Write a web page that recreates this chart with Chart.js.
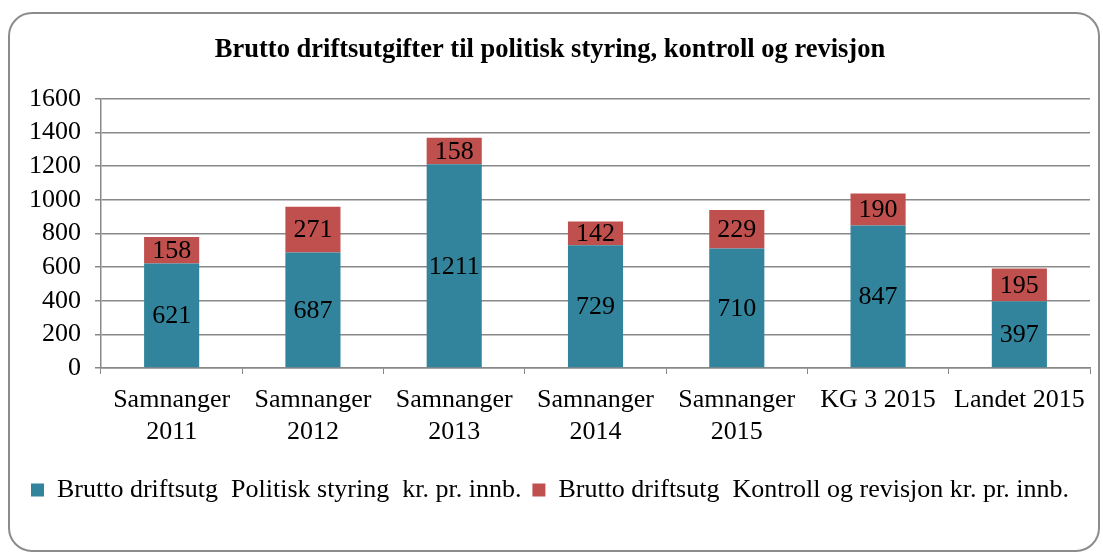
<!DOCTYPE html>
<html>
<head>
<meta charset="utf-8">
<script src="https://cdn.jsdelivr.net/npm/chart.js@4"></script>
<style>
  html, body { margin: 0; padding: 0; background: #fff; }
  #frame {
    position: absolute; left: 8px; top: 12px; width: 1088px; height: 536px;
    border: 2px solid #8c8c8c; border-radius: 24px; overflow: hidden;
  }
  #frame canvas { display: block; }
</style>
</head>
<body>
<div id="frame"><canvas id="chart" width="1088" height="536"></canvas></div>
<script>
const categories = [
  ["Samnanger", "2011"], ["Samnanger", "2012"], ["Samnanger", "2013"],
  ["Samnanger", "2014"], ["Samnanger", "2015"], "KG 3 2015", "Landet 2015"
];
const politisk = [621, 687, 1211, 729, 710, 847, 397];
const kontroll = [158, 271, 158, 142, 229, 190, 195];
const yTicks = [0, 200, 400, 600, 800, 1000, 1200, 1400, 1600];

const serif = "'Liberation Serif', 'Times New Roman', serif";

// draws the numbers inside each bar segment
const barLabels = {
  id: "barLabels",
  afterDatasetsDraw(chart) {
    const ctx = chart.ctx;
    ctx.save();
    ctx.font = "26px " + serif;
    ctx.fillStyle = "#000";
    ctx.textAlign = "center";
    ctx.textBaseline = "middle";
    chart.data.datasets.forEach((ds, i) => {
      chart.getDatasetMeta(i).data.forEach((bar, j) => {
        ctx.fillText(ds.data[j], bar.x, (bar.y + bar.base) / 2 + 1);
      });
    });
    ctx.restore();
  }
};

new Chart(document.getElementById("chart"), {
  type: "bar",
  data: {
    labels: categories,
    datasets: [
      {
        label: "Brutto driftsutg  Politisk styring  kr. pr. innb.",
        data: politisk,
        backgroundColor: "#31849b",
        categoryPercentage: 1,
        barPercentage: 0.39,
      },
      {
        label: "Brutto driftsutg  Kontroll og revisjon kr. pr. innb.",
        data: kontroll,
        backgroundColor: "#c0504d",
        categoryPercentage: 1,
        barPercentage: 0.39,
      },
    ],
  },
  options: {
    responsive: false,
    animation: false,
    devicePixelRatio: 1,
    layout: { padding: { left: 0, right: 8, top: 0, bottom: 37 } },
    plugins: {
      title: {
        display: true,
        text: "Brutto driftsutgifter til politisk styring, kontroll og revisjon",
        color: "#000",
        font: { family: serif, size: 26.5, weight: "bold" },
        padding: { top: 20, bottom: 33 },
      },
      legend: {
        display: true,
        position: "bottom",
        labels: {
          color: "#000",
          font: { family: serif, size: 26 },
          boxWidth: 13,
          boxHeight: 13,
          padding: 11,
        },
      },
      tooltip: { enabled: false },
    },
    scales: {
      x: {
        stacked: true,
        grid: {
          offset: true,
          drawOnChartArea: false,
          tickLength: 6,
          color: "#888",
        },
        border: { color: "#888", width: 1.5 },
        ticks: {
          color: "#000",
          font: { family: serif, size: 26, lineHeight: 1.23 },
          maxRotation: 0,
          autoSkip: false,
          padding: 10,
        },
        afterFit: (axis) => { axis.height = 98; },
      },
      y: {
        stacked: true,
        min: 0,
        max: 1600,
        afterBuildTicks: (axis) => { axis.ticks = yTicks.map((v) => ({ value: v })); },
        afterFit: (axis) => { axis.width = 91; },
        grid: { color: "#888", lineWidth: 1.5, tickLength: 6 },
        border: { color: "#888", width: 1.5 },
        ticks: {
          color: "#000",
          font: { family: serif, size: 26 },
          padding: 14,
          autoSkip: false,
          callback: (v) => String(v),
        },
      },
    },
  },
  plugins: [barLabels],
});
</script>
</body>
</html>
